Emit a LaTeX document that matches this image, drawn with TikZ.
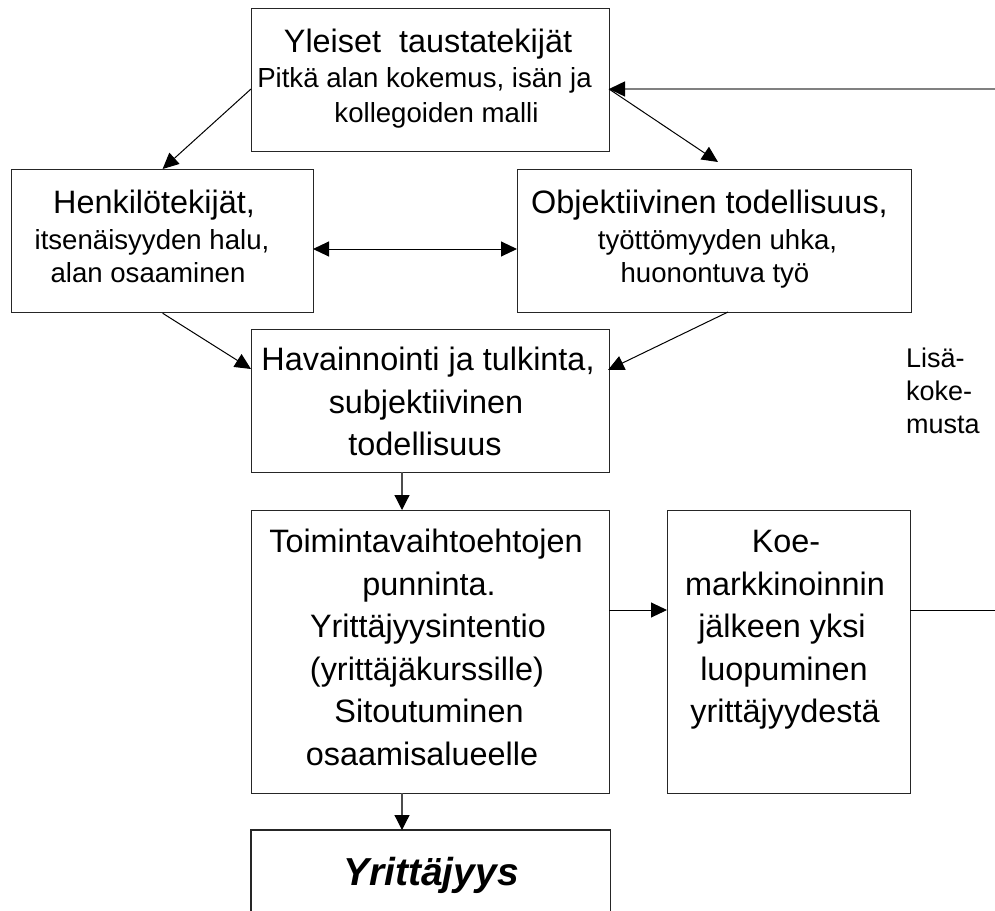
\documentclass[tikz,border=0pt]{standalone}
\usepackage{fontspec}
\setmainfont{Liberation Sans}
\usetikzlibrary{arrows.meta}
\begin{document}
\begin{tikzpicture}[x=1pt,y=-1pt,
  box/.style={draw=black!85, line width=1.2pt, inner sep=0pt, anchor=north west},
  hd/.style={font=\fontsize{32.4}{38}\selectfont, anchor=base, inner sep=0pt},
  sub/.style={font=\fontsize{27.6}{33}\selectfont, anchor=base, inner sep=0pt},
  side/.style={font=\fontsize{27}{32}\selectfont, anchor=base west, inner sep=0pt},
  yfont/.style={font=\fontsize{39}{46}\selectfont\bfseries\itshape, anchor=base, inner sep=0pt},
  conn/.style={line width=1pt, -{Triangle[length=16pt,width=15pt]}},
  dconn/.style={line width=1pt, {Triangle[length=16pt,width=15pt]}-{Triangle[length=16pt,width=15pt]}},
  vconn/.style={draw=black!70, line width=1.2pt, -{Triangle[length=15pt,width=15pt,color=black]}},
  fb/.style={draw=black!50, line width=1.5pt, -{Triangle[length=16pt,width=15pt,color=black]}},
  plain/.style={line width=1pt}]
\useasboundingbox (0,0) rectangle (995,910);

% boxes
\node[box, minimum width=358, minimum height=143] (yleiset) at (251,8) {};
\node[box, minimum width=302, minimum height=143] (henk) at (11,169) {};
\node[box, minimum width=394, minimum height=143] (obj) at (517,169) {};
\node[box, minimum width=358, minimum height=143] (hav) at (251,329) {};
\node[box, minimum width=358, minimum height=283] (toim) at (251,510) {};
\node[box, minimum width=243, minimum height=283] (koe) at (667,510) {};
\node[box, draw=none, minimum width=358, minimum height=80] (yritt) at (251,830) {};
\draw[black!85, line width=1.2pt] (yritt.south west) |- (yritt.north east) -- (yritt.south east);

% texts
\node[hd] (y1) at (428,52) {Yleiset\ \ taustatekijät};
\node[sub] (y2) at (424.5,87) {Pitkä alan kokemus, isän ja};
\node[sub] (y3) at (436.5,122) {kollegoiden malli};

\node[hd] (h1) at (154,213) {Henkilötekijät,};
\node[sub] (h2) at (152,249) {itsenäisyyden halu,};
\node[sub] (h3) at (148,282) {alan osaaminen};

\node[hd] (o1) at (709.5,213) {Objektiivinen todellisuus,};
\node[sub] (o2) at (717.5,249) {työttömyyden uhka,};
\node[sub] (o3) at (715,282) {huonontuva työ};

\node[hd] (v1) at (428,370) {Havainnointi ja tulkinta,};
\node[hd] (v2) at (426,413) {subjektiivinen};
\node[hd] (v3) at (425,455) {todellisuus};

\node[hd] (t1) at (426,552) {Toimintavaihtoehtojen};
\node[hd] (t2) at (429,595) {punninta.};
\node[hd] (t3) at (428,637) {Yrittäjyysintentio};
\node[hd] (t4) at (427,680) {(yrittäjäkurssille)};
\node[hd] (t5) at (429,722) {Sitoutuminen};
\node[hd] (t6) at (422,765) {osaamisalueelle};

\node[hd] (k1) at (786,552) {Koe-};
\node[hd] (k2) at (785,595) {markkinoinnin};
\node[hd] (k3) at (782,637) {jälkeen yksi};
\node[hd] (k4) at (784,680) {luopuminen};
\node[hd] (k5) at (785,722) {yrittäjyydestä};

\node[yfont] (yr) at (431,885) {Yrittäjyys};

\node[side] (l1) at (906,367) {Lisä-};
\node[side] (l2) at (906,400) {koke-};
\node[side] (l3) at (906,433) {musta};

% connector points
\coordinate (fbR) at (995,89);
\coordinate (yE) at (609,89);
\coordinate (yW) at (251,89);
\coordinate (objTip) at (718,162);
\coordinate (hE) at (313,249);
\coordinate (oW) at (517,249);
\coordinate (havL) at (251,369);
\coordinate (objB) at (728,312);
\coordinate (havR) at (608,370);
\coordinate (havB) at (402,472);
\coordinate (toimT) at (402,510);
\coordinate (toimR) at (609,610);
\coordinate (koeL) at (667,610);
\coordinate (koeR) at (910,610);
\coordinate (rEdge) at (995,610);
\coordinate (toimB) at (402,793);
\coordinate (yrT) at (402,830);

% connectors
\draw[fb] (fbR) -- (yE);
\draw[conn] (yW) -- (henk.north);
\draw[conn] (yE) -- (objTip);
\draw[dconn] (hE) -- (oW);
\draw[conn] (henk.south) -- (havL);
\draw[conn] (objB) -- (havR);
\draw[vconn] (havB) -- (toimT);
\draw[conn] (toimR) -- (koeL);
\draw[plain] (koeR) -- (rEdge);
\draw[vconn] (toimB) -- (yrT);
\end{tikzpicture}
\end{document}
